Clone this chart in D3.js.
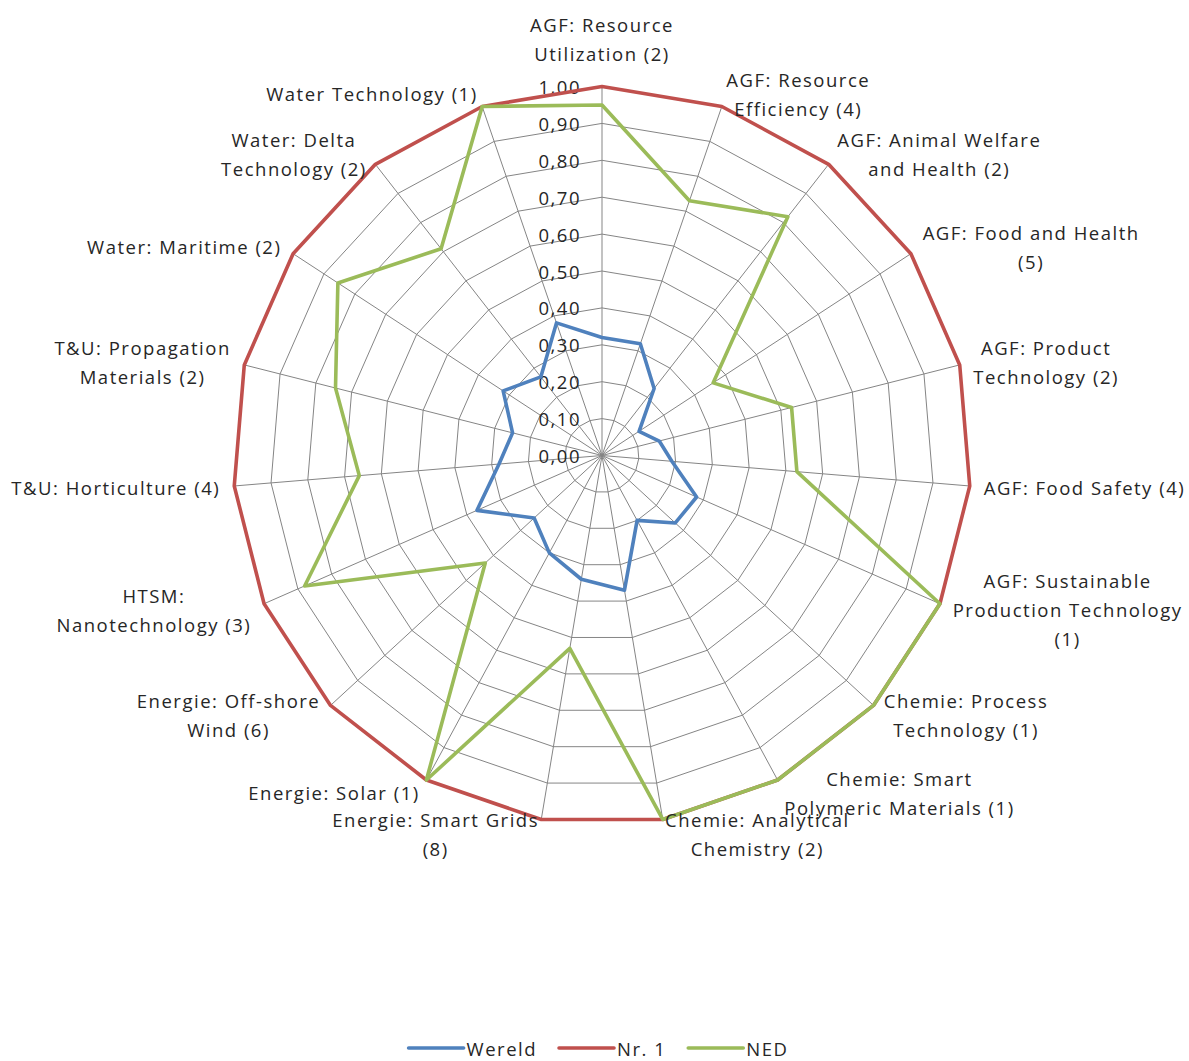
<!DOCTYPE html>
<html>
<head>
<meta charset="utf-8">
<script src="https://cdn.jsdelivr.net/npm/d3@7"></script>
<style>
  html, body { margin: 0; padding: 0; background: #ffffff; }
  svg { display: block; }
  text { font-family: "Open Sans", "Noto Sans", sans-serif; fill: #262626; }
</style>
</head>
<body>
<svg id="chart" width="1189" height="1061"></svg>
<script>
// ---------- data ----------
const categories = [
  "AGF: Resource\nUtilization (2)",
  "AGF: Resource\nEfficiency (4)",
  "AGF: Animal Welfare\nand Health (2)",
  "AGF: Food and Health\n(5)",
  "AGF: Product\nTechnology (2)",
  "AGF: Food Safety (4)",
  "AGF: Sustainable\nProduction Technology\n(1)",
  "Chemie: Process\nTechnology (1)",
  "Chemie: Smart\nPolymeric Materials (1)",
  "Chemie: Analytical\nChemistry (2)",
  "Energie: Smart Grids\n(8)",
  "Energie: Solar (1)",
  "Energie: Off-shore\nWind (6)",
  "HTSM:\nNanotechnology (3)",
  "T&U: Horticulture (4)",
  "T&U: Propagation\nMaterials (2)",
  "Water: Maritime (2)",
  "Water: Delta\nTechnology (2)",
  "Water Technology (1)"
];
const wereld = [0.32, 0.32, 0.23, 0.12, 0.16, 0.19, 0.28, 0.27, 0.20, 0.37, 0.34, 0.30, 0.25, 0.37, 0.28, 0.25, 0.32, 0.27, 0.38];
const nr1    = [1.00, 1.00, 1.00, 1.00, 1.00, 1.00, 1.00, 1.00, 1.00, 1.00, 1.00, 1.00, 1.00, 1.00, 1.00, 1.00, 1.00, 1.00, 1.00];
const ned    = [0.95, 0.73, 0.82, 0.36, 0.53, 0.53, 1.00, 1.00, 1.00, 1.00, 0.53, 1.00, 0.43, 0.88, 0.66, 0.745, 0.855, 0.71, 1.00];
const seriesNames = ["Wereld", "Nr. 1", "NED"];
const tickValues = [0, 0.1, 0.2, 0.3, 0.4, 0.5, 0.6, 0.7, 0.8, 0.9, 1.0];
const tickLabels = ["0,00", "0,10", "0,20", "0,30", "0,40", "0,50", "0,60", "0,70", "0,80", "0,90", "1,00"];

// ---------- layout ----------
const cx = 602, cy = 455.5, R = 369;
const colors = ["#4F81BD", "#C0504D", "#9BBB59"];
const fontSize = 18.5, letterSpacing = 1.5, lineH = 29;

const svg = d3.select("#chart");
svg.append("rect").attr("width", 1189).attr("height", 1061).attr("fill", "#fff");

const n = categories.length;
const angle = d3.scaleLinear().domain([0, n]).range([0, 2 * Math.PI]);
const r = d3.scaleLinear().domain([0, 1]).range([0, R]);

const g = svg.append("g").attr("transform", `translate(${cx},${cy})`);
const idx = d3.range(n);

// grid rings
const ring = d3.lineRadial()
  .angle(i => angle(i))
  .curve(d3.curveLinearClosed);
g.append("g").selectAll("path")
  .data(tickValues.filter(v => v > 0))
  .join("path")
  .attr("d", v => ring.radius(() => r(v))(idx))
  .attr("fill", "none")
  .attr("stroke", "#858585")
  .attr("stroke-width", 1);

// spokes
g.append("g").selectAll("line")
  .data(idx)
  .join("line")
  .attr("x1", 0).attr("y1", 0)
  .attr("x2", i => r(1) * Math.sin(angle(i)))
  .attr("y2", i => -r(1) * Math.cos(angle(i)))
  .attr("stroke", "#858585")
  .attr("stroke-width", 1);

// tick labels
g.append("g").selectAll("text")
  .data(tickValues)
  .join("text")
  .attr("x", -21)
  .attr("y", v => -r(v))
  .attr("text-anchor", "end")
  .attr("dominant-baseline", "central")
  .style("font-size", fontSize + "px")
  .style("letter-spacing", letterSpacing + "px")
  .text((v, i) => tickLabels[i]);

// series
const line = d3.lineRadial()
  .angle((d, i) => angle(i))
  .radius(d => r(d))
  .curve(d3.curveLinearClosed);
const series = [wereld, nr1, ned];
g.append("g").selectAll("path")
  .data(series)
  .join("path")
  .attr("d", d => line(d))
  .attr("fill", "none")
  .attr("stroke", (d, i) => colors[i])
  .attr("stroke-width", 3.6)
  .attr("stroke-linejoin", "round");

// category labels
const labG = g.append("g");
idx.forEach(i => {
  const a = angle(i);
  const s = Math.sin(a), c = Math.cos(a);
  const lines = categories[i].split("\n");
  const t = labG.append("text")
    .attr("text-anchor", "middle")
    .attr("dominant-baseline", "central")
    .style("font-size", fontSize + "px")
    .style("letter-spacing", letterSpacing + "px");
  const tsp = t.selectAll("tspan").data(lines).join("tspan").text(d => d);
  let w = 0;
  tsp.each(function () { w = Math.max(w, this.getComputedTextLength()); });
  const h = lines.length * lineH;
  let qx, qy, mx, my;
  if (Math.abs(s) < 0.01) {
    const gap = 19;
    qx = (R + gap) * s; qy = -(R + gap) * c;
    mx = qx;
    my = c > 0 ? qy - h / 2 : qy + h / 2;
  } else {
    const gap = 14;
    qx = (R + gap) * s; qy = -(R + gap) * c;
    mx = qx + Math.sign(s) * w / 2;
    my = qy;
  }
  tsp.attr("x", mx)
     .attr("y", (d, k) => my + (k - (lines.length - 1) / 2) * lineH);
});

// legend
const legend = svg.append("g");
const lineLen = 55, txtGap = 3, itemGap = 22, legendY = 1048;
let xpos = 0;
seriesNames.forEach((name, i) => {
  const it = legend.append("g");
  it.append("line").attr("x1", xpos).attr("x2", xpos + lineLen)
    .attr("y1", legendY).attr("y2", legendY)
    .attr("stroke", colors[i]).attr("stroke-width", 3.6).attr("stroke-linecap", "round");
  const tx = it.append("text").attr("x", xpos + lineLen + txtGap).attr("y", legendY)
    .attr("dominant-baseline", "central")
    .style("font-size", fontSize + "px")
    .style("letter-spacing", letterSpacing + "px")
    .text(name);
  xpos += lineLen + txtGap + tx.node().getComputedTextLength() + itemGap;
});
const totalW = xpos - itemGap;
legend.attr("transform", `translate(${598.5 - totalW / 2},0)`);
</script>
</body>
</html>
